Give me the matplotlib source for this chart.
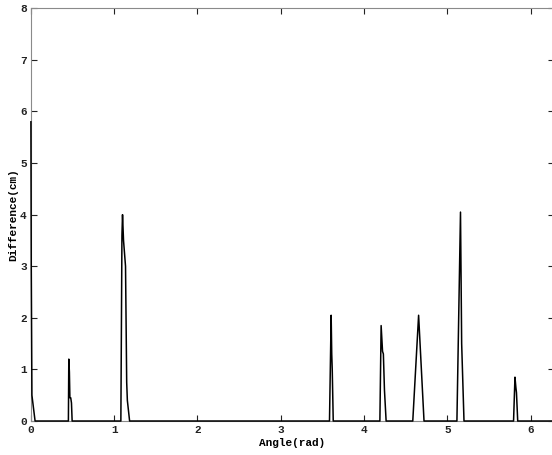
import matplotlib
matplotlib.use("Agg")
import matplotlib.pyplot as plt

# difference curve (angle in rad, difference in cm)
angle = [0.0, 0.004, 0.012, 0.05, 0.45, 0.455, 0.462, 0.468, 0.478, 0.487, 0.495,
         1.08, 1.093, 1.10, 1.112, 1.136, 1.15, 1.158, 1.185,
         3.585, 3.605, 3.612, 3.618, 3.63,
         4.19, 4.205, 4.222, 4.232, 4.245, 4.265,
         4.585, 4.655, 4.72,
         5.115, 5.158, 5.172, 5.20,
         5.795, 5.812, 5.823, 5.83, 5.845, 6.2832]
diff = [5.8, 3.0, 0.5, 0.0, 0.0, 1.2, 0.95, 0.45, 0.45, 0.35, 0.0,
        0.0, 3.6, 4.0, 3.5, 3.0, 0.75, 0.4, 0.0,
        0.0, 2.05, 1.3, 1.0, 0.0,
        0.0, 1.85, 1.35, 1.3, 0.6, 0.0,
        0.0, 2.05, 0.0,
        0.0, 4.05, 1.5, 0.0,
        0.0, 0.85, 0.65, 0.55, 0.0, 0.0]

x_ticks = [0, 1, 2, 3, 4, 5, 6]
y_ticks = [0, 1, 2, 3, 4, 5, 6, 7, 8]

plt.rcParams['font.family'] = ['Liberation Mono', 'DejaVu Sans Mono']

fig = plt.figure(figsize=(5.52, 4.55), dpi=100)
ax = fig.add_axes([0.056, 0.0747, 0.948, 0.907])

ax.plot(angle, diff, color='black', linewidth=1.1, zorder=3, clip_on=False)

ax.set_xlim(0, 2 * 3.14159)
ax.set_ylim(0, 8)
ax.set_xticks(x_ticks)
ax.set_yticks(y_ticks)
ax.tick_params(direction='in', top=True, right=True, length=4, width=0.8,
               labelsize=8, pad=3, colors='#222222')
for lbl in ax.get_xticklabels() + ax.get_yticklabels():
    lbl.set_fontweight('bold')
for s in ax.spines.values():
    s.set_linewidth(0.8)
    s.set_color('#8a8a8a')

ax.set_xlabel('Angle(rad)', fontsize=8, fontweight='bold', labelpad=2)
ax.set_ylabel('Difference(cm)', fontsize=8, fontweight='bold', labelpad=1)

fig.savefig('out.png', dpi=100)
